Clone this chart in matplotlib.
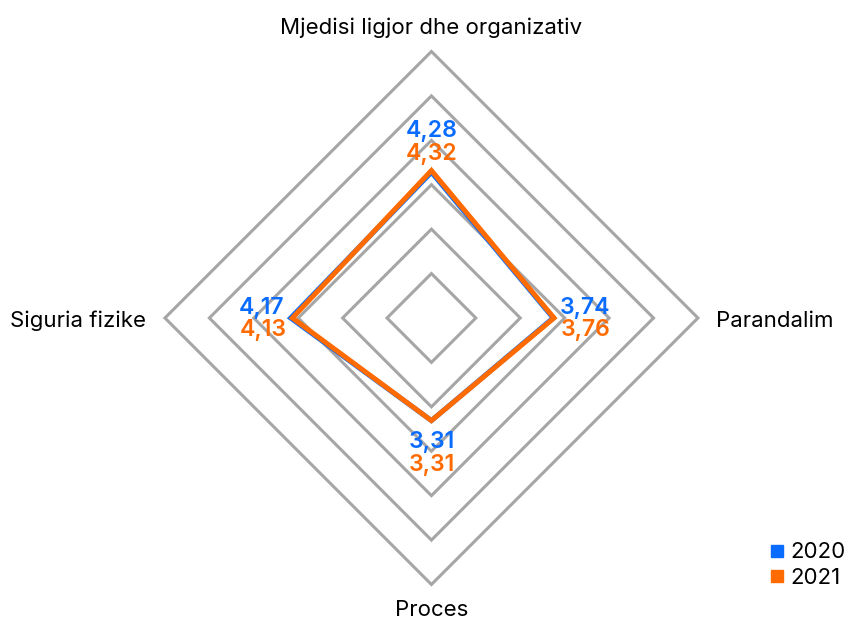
import numpy as np
import matplotlib.pyplot as plt
from matplotlib.lines import Line2D

# data
categories = ['Mjedisi ligjor dhe organizativ', 'Parandalim', 'Proces', 'Siguria fizike']
vals_2020 = [4.28, 3.74, 3.31, 4.17]
vals_2021 = [4.32, 3.76, 3.31, 4.13]
series_names = ['2020', '2021']
grid_levels = [2, 3, 4, 5, 6, 7]

blue = '#0A6CFF'
orange = '#FF6B00'
grey = '#A6A6A6'

plt.rcParams['font.family'] = ['Inter', 'DejaVu Sans']

fig = plt.figure(figsize=(8.55, 6.21), dpi=100)
ax = fig.add_axes([0.1929, 0.0588, 0.6234, 0.8583], projection='polar')
ax.set_theta_offset(np.pi / 2)
ax.set_theta_direction(-1)
ax.set_ylim(1, 7)
ax.axis('off')

theta = np.arange(len(categories)) * 2 * np.pi / len(categories)

# diamond grid
for lvl in grid_levels:
    ax.fill(theta, [lvl] * len(theta), fill=False, edgecolor=grey, lw=2.2,
            joinstyle='miter', clip_on=False)

# series
for vals, col in [(vals_2020, blue), (vals_2021, orange)]:
    ax.fill(theta, vals, fill=False, edgecolor=col, lw=3.6,
            joinstyle='miter', clip_on=False)

# value labels (offsets in pixels: blue, orange)
lab_fmt = dict(fontsize=16.6, fontweight='semibold', va='baseline')
offs = [((0, 35.4), (0, 10.6), 'center'),
        ((6.5, 4), (6.5, -18.5), 'left'),
        ((0, -27.4), (0, -50.4), 'center'),
        ((-6, 4), (-6, -18.5), 'right')]
for i, (ob, oo, ha) in enumerate(offs):
    ax.annotate(f'{vals_2020[i]:.2f}'.replace('.', ','), xy=(theta[i], vals_2020[i]),
                xytext=ob, textcoords='offset pixels', ha=ha, color=blue, **lab_fmt)
    ax.annotate(f'{vals_2021[i]:.2f}'.replace('.', ','), xy=(theta[i], vals_2021[i]),
                xytext=oo, textcoords='offset pixels', ha=ha, color=orange, **lab_fmt)

# category labels
cat_offs = [((0, 17.7), 'center'), ((18, -8.7), 'left'),
            ((0, -32), 'center'), ((-19, -8.7), 'right')]
for i, (o, ha) in enumerate(cat_offs):
    ax.annotate(categories[i], xy=(theta[i], grid_levels[-1]), xytext=o,
                textcoords='offset pixels', ha=ha, va='baseline',
                fontsize=16, color='black')

handles = [Line2D([], [], marker='s', ls='none', color=c, markersize=8.3)
           for c in (blue, orange)]
fig.legend(handles, series_names, loc='lower left',
           bbox_to_anchor=(0.9006, 0.0531), frameon=False, fontsize=16,
           handlelength=0.6, handletextpad=0.3, labelspacing=0.25,
           borderpad=0, borderaxespad=0)

plt.savefig('out.png', dpi=100)
